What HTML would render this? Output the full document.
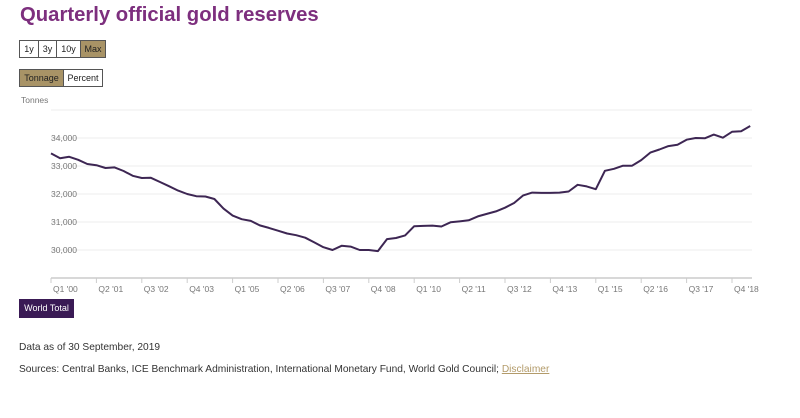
<!DOCTYPE html>
<html><head><meta charset="utf-8"><style>
body{margin:0;background:#fff;font-family:"Liberation Sans",sans-serif;width:800px;height:418px;overflow:hidden;position:relative}
.abs{position:absolute}
.btn{position:absolute;height:16px;border:1px solid #555;font-size:9px;line-height:16px;text-align:center;color:#222;background:#fff;box-sizing:content-box}
.on{background:#a89366}
</style></head><body>
<div class="abs" style="left:20px;top:4px;font-size:20.3px;font-weight:bold;color:#7d2f7e">Quarterly official gold reserves</div>
<div class="btn" style="left:19px;top:40px;width:18px">1y</div>
<div class="btn" style="left:38px;top:40px;width:17px">3y</div>
<div class="btn" style="left:56px;top:40px;width:23px">10y</div>
<div class="btn on" style="left:80px;top:40px;width:24px">Max</div>
<div class="btn on" style="left:19px;top:69px;width:43px">Tonnage</div>
<div class="btn" style="left:63px;top:69px;width:38px">Percent</div>
<svg class="abs" style="left:0;top:0" width="800" height="300" id="chart"></svg>
<div class="abs" style="left:19px;top:299px;width:55px;height:19px;background:#3a1a55;color:#fff;font-size:9px;line-height:19px;text-align:center">World Total</div>
<div class="abs" style="left:19px;top:342px;font-size:10.2px;color:#333">Data as of 30 September, 2019</div>
<div class="abs" style="left:19px;top:364px;font-size:10.2px;color:#333">Sources: Central Banks, ICE Benchmark Administration, International Monetary Fund, World Gold Council; <span style="color:#b39b6a;text-decoration:underline">Disclaimer</span></div>
<script>
const values=[33450,33280,33330,33220,33070,33030,32930,32950,32820,32650,32570,32580,32430,32280,32120,32000,31920,31910,31820,31480,31230,31100,31040,30880,30790,30690,30590,30530,30440,30270,30100,30000,30150,30120,30000,30000,29960,30390,30430,30520,30850,30860,30870,30840,30990,31020,31060,31200,31290,31380,31510,31680,31950,32050,32040,32040,32050,32090,32330,32270,32170,32830,32900,33010,33010,33210,33480,33590,33710,33760,33940,34000,33990,34120,34010,34220,34240,34430];
const yTicks=[30000,31000,32000,33000,34000,35000];
const yTickLabels=["30,000","31,000","32,000","33,000","34,000",""];
const xTickIdx=[0,5,10,15,20,25,30,35,40,45,50,55,60,65,70,75];
const xTickLabels=["Q1 '00","Q2 '01","Q3 '02","Q4 '03","Q1 '05","Q2 '06","Q3 '07","Q4 '08","Q1 '10","Q2 '11","Q3 '12","Q4 '13","Q1 '15","Q2 '16","Q3 '17","Q4 '18"];
const NS="http://www.w3.org/2000/svg",svg=document.getElementById('chart');
const x0=51,step=9.08,X=i=>x0+i*step,Y=v=>278-(v-29000)*0.028;
function mk(t,a){const e=document.createElementNS(NS,t);for(const k in a)e.setAttribute(k,a[k]);svg.appendChild(e);return e;}
const tl=mk('text',{x:21,y:103,'font-size':8.5,fill:'#777','font-family':'Liberation Sans'});tl.textContent='Tonnes';


yTicks.forEach((v,k)=>{
 const g=mk('line',{x1:51,x2:752,y1:Y(v),y2:Y(v),stroke:'#ececec','stroke-width':1});
 
 
 if(yTickLabels[k]){const t=mk('text',{x:77,y:Y(v)+3,'font-size':8.5,fill:'#777','text-anchor':'end','font-family':'Liberation Sans'});t.textContent=yTickLabels[k];
 
 }
});
const ax=mk('line',{x1:51,x2:752,y1:278,y2:278,stroke:'#ccc','stroke-width':1.5});


xTickIdx.forEach((i,k)=>{
 const tk=mk('line',{x1:X(i),x2:X(i),y1:278,y2:283,stroke:'#ccc'});
 
 
 const t=mk('text',{x:X(i)+2,y:292,'font-size':8.5,fill:'#777','font-family':'Liberation Sans'});t.textContent=xTickLabels[k];
 
 
});
const p=mk('path',{d:values.map((v,i)=>(i?'L':'M')+X(i).toFixed(1)+','+Y(v).toFixed(1)).join(''),fill:'none',stroke:'#3d2653','stroke-width':2,'stroke-linejoin':'round'});


</script>
</body></html>
